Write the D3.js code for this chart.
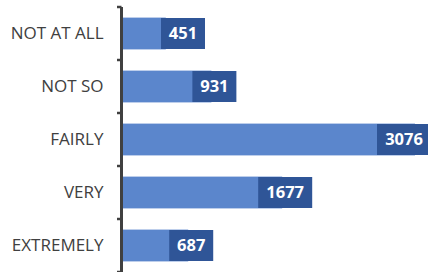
<!DOCTYPE html>
<html><head><meta charset="utf-8">
<script src="https://cdn.jsdelivr.net/npm/d3@7/dist/d3.min.js"></script>
<style>html,body{margin:0;padding:0;background:#fff;}svg{display:block;}</style>
</head><body>
<svg id="chart" width="428" height="272"></svg>
<script>
const categories = ["NOT AT ALL", "NOT SO", "FAIRLY", "VERY", "EXTREMELY"];
const values = [451, 931, 3076, 1677, 687];

const W = 428, H = 272;
const svg = d3.select("#chart");
const x0 = 123;
const x = d3.scaleLinear().domain([0, 3076]).range([x0, 415]);
const y = d3.scaleBand().domain(categories).range([7, 272]).paddingInner(0.4).paddingOuter(0.2);

// bars
svg.append("g").selectAll("rect").data(categories).join("rect")
  .attr("x", x(0))
  .attr("y", d => y(d))
  .attr("width", (d, i) => x(values[i]) - x(0))
  .attr("height", y.bandwidth())
  .attr("fill", "#5B86CC");

// axis
const axis = d3.axisLeft(y).tickSize(0).tickPadding(18);
const gA = svg.append("g").attr("transform", `translate(${x0 - 1.5},0)`).call(axis);
gA.select(".domain").remove();
gA.selectAll("text").attr("font-family", "'Open Sans', sans-serif").attr("font-size", 17).attr("fill", "#404040");
// axis line + boundary ticks
svg.append("line").attr("x1", x0 - 1.5).attr("x2", x0 - 1.5).attr("y1", 7).attr("y2", 272)
  .attr("stroke", "#404040").attr("stroke-width", 3);
const bounds = d3.range(categories.length + 1).map(i => 7 + i * (265 / categories.length));
svg.append("g").selectAll("line").data(bounds).join("line")
  .attr("x1", x0 - 6).attr("x2", x0 - 1.5)
  .attr("y1", d => d).attr("y2", d => d)
  .attr("stroke", "#404040").attr("stroke-width", 2.5);

// labels
const lg = svg.append("g").selectAll("g").data(categories).join("g");
lg.each(function(d, i) {
  const g = d3.select(this);
  const txt = String(values[i]);
  const w = txt.length >= 4 ? 54 : 44;
  const end = x(values[i]);
  let cx = end + 3;
  cx = Math.max(cx, x0 + 38 + w / 2);
  cx = Math.min(cx, W - w / 2 + 3);
  const cy = y(d) + y.bandwidth() / 2;
  g.append("rect").attr("x", cx - w / 2).attr("y", cy - 15.5).attr("width", w).attr("height", 31).attr("fill", "#2F5597");
  g.append("text").attr("x", cx).attr("y", cy).attr("dy", "0.36em").attr("text-anchor", "middle")
    .attr("font-family", "'Open Sans', sans-serif").attr("font-weight", "bold").attr("font-size", 16.5)
    .attr("fill", "#fff").text(txt);
});
</script>
</body></html>
